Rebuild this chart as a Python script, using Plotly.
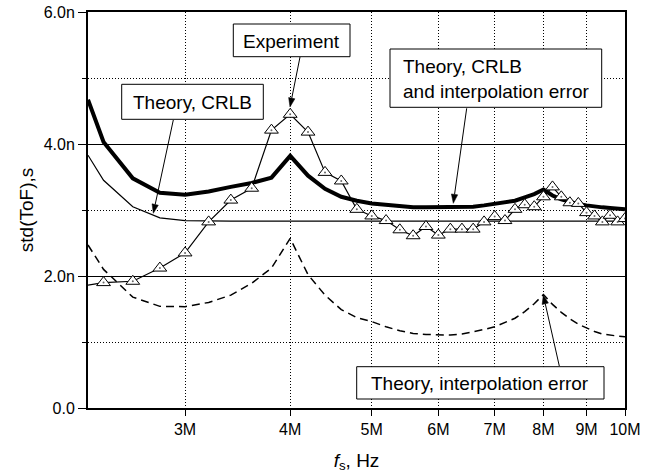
import math
import plotly.graph_objects as go

# ---- data (x in MHz, y in ns) ----
theory_x = [2.3, 2.4, 2.6, 2.8, 3.0, 3.2, 3.4, 3.6, 3.8, 4.0,
            4.2, 4.4, 4.6, 4.8, 5.0, 5.2, 5.4, 5.6, 5.8, 6.0,
            6.2, 6.4, 6.6, 6.8, 7.0, 7.2, 7.4, 7.6, 7.8, 8.0,
            8.2, 8.4, 8.6, 8.8, 9.0, 9.2, 9.4, 9.6, 9.8, 10.0]
crlb = [3.83, 3.45, 3.05, 2.88, 2.84, 2.83, 2.83, 2.83, 2.83, 2.83,
        2.83, 2.83, 2.83, 2.83, 2.83, 2.83, 2.83, 2.83, 2.83, 2.83,
        2.83, 2.83, 2.83, 2.83, 2.83, 2.83, 2.83, 2.83, 2.83, 2.83,
        2.83, 2.83, 2.83, 2.83, 2.83, 2.83, 2.83, 2.83, 2.83, 2.83]
interp = [2.47, 2.10, 1.68, 1.54, 1.535, 1.60, 1.71, 1.89, 2.12, 2.57,
          2.02, 1.71, 1.49, 1.37, 1.31, 1.23, 1.17, 1.13, 1.115, 1.105,
          1.105, 1.12, 1.15, 1.19, 1.23, 1.29, 1.36, 1.46, 1.58, 1.72,
          1.57, 1.45, 1.35, 1.27, 1.21, 1.16, 1.12, 1.10, 1.09, 1.08]
total = [4.67, 4.03, 3.48, 3.26, 3.23, 3.28, 3.35, 3.41, 3.49, 3.82,
         3.52, 3.32, 3.20, 3.14, 3.10, 3.08, 3.05, 3.04, 3.04, 3.04,
         3.04, 3.04, 3.05, 3.07, 3.09, 3.11, 3.14, 3.19, 3.24, 3.31,
         3.22, 3.16, 3.12, 3.09, 3.07, 3.05, 3.04, 3.03, 3.02, 3.01]
exp_x = [2.2, 2.4, 2.6, 2.8, 3.0, 3.2, 3.4, 3.6, 3.8, 4.0,
         4.2, 4.4, 4.6, 4.8, 5.0, 5.2, 5.4, 5.6, 5.8, 6.0,
         6.2, 6.4, 6.6, 6.8, 7.0, 7.2, 7.4, 7.6, 7.8, 8.0,
         8.2, 8.4, 8.6, 8.8, 9.0, 9.2, 9.4, 9.6, 9.8, 10.0]
exp_y = [1.82, 1.90, 1.92, 2.12, 2.35, 2.82, 3.15, 3.33, 4.21, 4.45,
         4.18, 3.57, 3.44, 3.01, 2.91, 2.84, 2.70, 2.61, 2.75, 2.62,
         2.71, 2.71, 2.71, 2.82, 2.90, 2.84, 3.01, 3.08, 3.05, 3.20,
         3.35, 3.20, 3.11, 3.10, 2.96, 2.91, 2.82, 2.92, 2.82, 2.87]

x_tickvals = [3, 4, 5, 6, 7, 8, 9, 10]
x_ticktext = ["3M", "4M", "5M", "6M", "7M", "8M", "9M", "10M"]
y_tickvals = [0, 2, 4, 6]
y_ticktext = ["0.0", "2.0n", "4.0n", "6.0n"]
y_minor = [1, 3, 5]

FONT = "Arial, Liberation Sans, sans-serif"

fig = go.Figure()
fig.add_trace(go.Scatter(x=theory_x, y=interp, mode="lines",
                         line=dict(color="black", width=1.5, dash="8px,5px")))
fig.add_trace(go.Scatter(x=theory_x, y=crlb, mode="lines",
                         line=dict(color="black", width=1.2)))
fig.add_trace(go.Scatter(x=theory_x, y=total, mode="lines",
                         line=dict(color="black", width=4)))
fig.add_trace(go.Scatter(x=exp_x, y=exp_y, mode="lines+markers",
                         line=dict(color="black", width=1.2),
                         marker=dict(symbol="triangle-up", size=12, color="white",
                                     line=dict(color="black", width=1))))
fig.add_trace(go.Scatter(x=exp_x, y=exp_y, mode="markers",
                         marker=dict(symbol="circle", size=2, color="#666")))

W0, W1, H0, H1 = 88, 625, 12, 408


def px(xp, yp):
    return (xp - W0) / (W1 - W0), (H1 - yp) / (H1 - H0)


annotations = []
shapes = []
# label boxes: (text, x0, y0, x1, y1, align)
boxes = [
    ("Experiment", 233.3, 24, 350, 56.7, "center"),
    ("Theory, CRLB", 121.7, 84.3, 263.3, 119.3, "center"),
    ("Theory, CRLB<br>and interpolation error", 390, 49, 601.7, 107.3, "left"),
    ("Theory, interpolation error", 356.7, 366.7, 604, 399, "center"),
]
for text, x0, y0, x1, y1, al in boxes:
    a = px(x0, y0)
    b = px(x1, y1)
    shapes.append(dict(type="rect", xref="paper", yref="paper",
                       x0=a[0], y0=b[1], x1=b[0], y1=a[1],
                       fillcolor="white", line=dict(color="black", width=1)))
    cy = (y0 + y1) / 2
    if al == "left":
        tx, xa = x0 + 11.5, "left"
    else:
        tx, xa = (x0 + x1) / 2, "center"
    p = px(tx, cy + 1)
    annotations.append(dict(text=text, x=p[0], y=p[1], xref="paper", yref="paper",
                            xanchor=xa, yanchor="middle", showarrow=False,
                            align=al, borderpad=0,
                            font=dict(family=FONT, size=19, color="black")))
# arrows: (tail px, tip px) drawn as line + filled head
arrows = [
    ((300, 57), (290, 107)),
    ((173.3, 120), (153.3, 213.3)),
    ((466.7, 108.3), (453.3, 203.3)),
    ((559.3, 366), (543.3, 295)),
]
HL, HW = 9.0, 3.2
for (tx, ty), (hx, hy) in arrows:
    dx, dy = hx - tx, hy - ty
    L = math.hypot(dx, dy)
    ux, uy = dx / L, dy / L
    bx, by = hx - ux * HL, hy - uy * HL
    p0 = px(tx, ty)
    p1 = px(bx, by)
    shapes.append(dict(type="line", xref="paper", yref="paper",
                       x0=p0[0], y0=p0[1], x1=p1[0], y1=p1[1],
                       line=dict(color="black", width=1)))
    a = px(hx, hy)
    b = px(bx - uy * HW, by + ux * HW)
    c = px(bx + uy * HW, by - ux * HW)
    shapes.append(dict(type="path", xref="paper", yref="paper",
                       path=f"M {a[0]},{a[1]} L {b[0]},{b[1]} L {c[0]},{c[1]} Z",
                       fillcolor="black", line=dict(color="black", width=0.5)))

fig.update_layout(
    width=665, height=474,
    margin=dict(l=W0, r=665 - W1, t=H0, b=474 - H1, pad=0),
    plot_bgcolor="white", paper_bgcolor="white",
    showlegend=False,
    font=dict(family=FONT, size=16, color="black"),
    annotations=annotations,
    shapes=shapes,
    xaxis=dict(type="log", range=[0.36173, 1.0], automargin=False,
               tickmode="array", tickvals=x_tickvals, ticktext=x_ticktext,
               ticks="outside", ticklen=6, tickwidth=1, tickcolor="black",
               showline=True, linewidth=2, linecolor="black", mirror=True,
               showgrid=True, gridcolor="black", gridwidth=1, griddash="1px,2px",
               zeroline=False,
               tickfont=dict(family=FONT, size=16, color="black"),
               title=dict(text="<i>f</i><sub>s</sub>, Hz", standoff=16,
                          font=dict(family=FONT, size=19, color="black"))),
    yaxis=dict(range=[0, 6], automargin=False,
               tickmode="array", tickvals=y_tickvals, ticktext=y_ticktext,
               ticks="outside", ticklen=8, tickwidth=1, tickcolor="black",
               showline=True, linewidth=2, linecolor="black", mirror=True,
               showgrid=True, gridcolor="black", gridwidth=1,
               zeroline=False,
               minor=dict(tickmode="array", tickvals=y_minor, ticks="outside",
                          ticklen=4, tickcolor="black", showgrid=True,
                          gridcolor="black", gridwidth=1, griddash="1px,2px"),
               tickfont=dict(family=FONT, size=16, color="black"),
               title=dict(text="std(ToF),s", standoff=5,
                          font=dict(family=FONT, size=19, color="black"))),
)

fig.write_html("out.html", config={"displayModeBar": False},
               post_script="document.body.style.margin='0';")
